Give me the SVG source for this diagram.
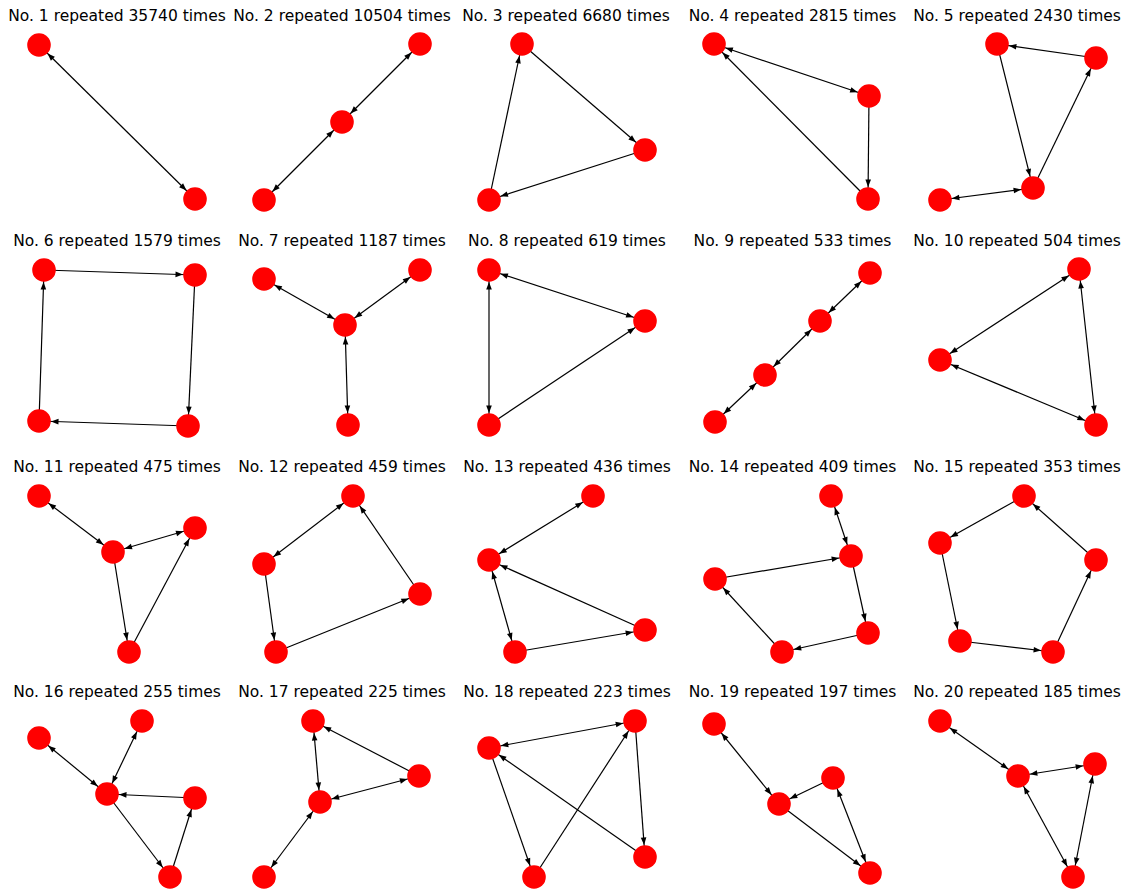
<svg xmlns="http://www.w3.org/2000/svg" width="1128" height="892" viewBox="0 0 1128 892">
<style>
.t{font-family:"DejaVu Sans",sans-serif;font-size:15.5px;fill:#000;text-anchor:middle}
.e line{stroke:#000;stroke-width:1.2}
.u{marker-end:url(#ah)}
.b{marker-start:url(#ah);marker-end:url(#ah)}
circle{fill:#ff0000}
</style>
<defs>
<marker id="ah" markerUnits="userSpaceOnUse" markerWidth="1" markerHeight="1" refX="0" refY="0" orient="auto-start-reverse" overflow="visible">
<path d="M-12,0 L-19.5,-2.8 L-19.5,2.8 Z" fill="#000"/>
</marker>
</defs>
<rect width="1128" height="892" fill="#fff"/>

<g id="panel1">
<text class="t" x="117" y="21">No. 1 repeated 35740 times</text>
<g id="p1-edges" class="e"><line class="b" x1="39" y1="45" x2="195" y2="199"/></g>
<g id="p1-n1"><circle cx="39" cy="45" r="11.8"/></g>
<g id="p1-n2"><circle cx="195" cy="199" r="11.8"/></g>
</g>

<g id="panel2">
<text class="t" x="342" y="21">No. 2 repeated 10504 times</text>
<g id="p2-edges" class="e">
<line class="b" x1="420" y1="44" x2="342" y2="122"/>
<line class="b" x1="342" y1="122" x2="264" y2="200"/>
</g>
<g id="p2-n1"><circle cx="420" cy="44" r="11.8"/></g>
<g id="p2-n2"><circle cx="342" cy="122" r="11.8"/></g>
<g id="p2-n3"><circle cx="264" cy="200" r="11.8"/></g>
</g>

<g id="panel3">
<text class="t" x="566" y="21">No. 3 repeated 6680 times</text>
<g id="p3-edges" class="e">
<line class="u" x1="522" y1="44" x2="645" y2="150"/>
<line class="u" x1="645" y1="150" x2="489" y2="200"/>
<line class="u" x1="489" y1="200" x2="522" y2="44"/>
</g>
<g id="p3-n1"><circle cx="522" cy="44" r="11.8"/></g>
<g id="p3-n2"><circle cx="645" cy="150" r="11.8"/></g>
<g id="p3-n3"><circle cx="489" cy="200" r="11.8"/></g>
</g>

<g id="panel4">
<text class="t" x="792.5" y="21">No. 4 repeated 2815 times</text>
<g id="p4-edges" class="e">
<line class="b" x1="714" y1="44" x2="869" y2="96"/>
<line class="u" x1="869" y1="96" x2="868" y2="199"/>
<line class="u" x1="868" y1="199" x2="714" y2="44"/>
</g>
<g id="p4-n1"><circle cx="714" cy="44" r="11.8"/></g>
<g id="p4-n2"><circle cx="869" cy="96" r="11.8"/></g>
<g id="p4-n3"><circle cx="868" cy="199" r="11.8"/></g>
</g>

<g id="panel5">
<text class="t" x="1017" y="21">No. 5 repeated 2430 times</text>
<g id="p5-edges" class="e">
<line class="u" x1="1096" y1="58" x2="997" y2="44"/>
<line class="u" x1="997" y1="44" x2="1033" y2="188"/>
<line class="u" x1="1033" y1="188" x2="1096" y2="58"/>
<line class="b" x1="1033" y1="188" x2="940" y2="200"/>
</g>
<g id="p5-n1"><circle cx="997" cy="44" r="11.8"/></g>
<g id="p5-n2"><circle cx="1096" cy="58" r="11.8"/></g>
<g id="p5-n3"><circle cx="1033" cy="188" r="11.8"/></g>
<g id="p5-n4"><circle cx="940" cy="200" r="11.8"/></g>
</g>

<g id="panel6">
<text class="t" x="117" y="246">No. 6 repeated 1579 times</text>
<g id="p6-edges" class="e">
<line class="u" x1="44" y1="270" x2="195" y2="275"/>
<line class="u" x1="195" y1="275" x2="188" y2="426"/>
<line class="u" x1="188" y1="426" x2="39" y2="421"/>
<line class="u" x1="39" y1="421" x2="44" y2="270"/>
</g>
<g id="p6-n1"><circle cx="44" cy="270" r="11.8"/></g>
<g id="p6-n2"><circle cx="195" cy="275" r="11.8"/></g>
<g id="p6-n3"><circle cx="39" cy="421" r="11.8"/></g>
<g id="p6-n4"><circle cx="188" cy="426" r="11.8"/></g>
</g>

<g id="panel7">
<text class="t" x="342" y="246">No. 7 repeated 1187 times</text>
<g id="p7-edges" class="e">
<line class="b" x1="264" y1="279" x2="345" y2="325"/>
<line class="b" x1="420" y1="270" x2="345" y2="325"/>
<line class="b" x1="345" y1="325" x2="348" y2="425"/>
</g>
<g id="p7-n1"><circle cx="264" cy="279" r="11.8"/></g>
<g id="p7-n2"><circle cx="420" cy="270" r="11.8"/></g>
<g id="p7-n3"><circle cx="345" cy="325" r="11.8"/></g>
<g id="p7-n4"><circle cx="348" cy="425" r="11.8"/></g>
</g>

<g id="panel8">
<text class="t" x="567" y="246">No. 8 repeated 619 times</text>
<g id="p8-edges" class="e">
<line class="b" x1="489" y1="270" x2="645" y2="321"/>
<line class="b" x1="489" y1="270" x2="489" y2="425"/>
<line class="u" x1="489" y1="425" x2="645" y2="321"/>
</g>
<g id="p8-n1"><circle cx="489" cy="270" r="11.8"/></g>
<g id="p8-n2"><circle cx="645" cy="321" r="11.8"/></g>
<g id="p8-n3"><circle cx="489" cy="425" r="11.8"/></g>
</g>

<g id="panel9">
<text class="t" x="792.5" y="246">No. 9 repeated 533 times</text>
<g id="p9-edges" class="e">
<line class="b" x1="870" y1="273" x2="820" y2="321"/>
<line class="b" x1="820" y1="321" x2="765" y2="375"/>
<line class="b" x1="765" y1="375" x2="715" y2="422"/>
</g>
<g id="p9-n1"><circle cx="870" cy="273" r="11.8"/></g>
<g id="p9-n2"><circle cx="820" cy="321" r="11.8"/></g>
<g id="p9-n3"><circle cx="765" cy="375" r="11.8"/></g>
<g id="p9-n4"><circle cx="715" cy="422" r="11.8"/></g>
</g>

<g id="panel10">
<text class="t" x="1017" y="246">No. 10 repeated 504 times</text>
<g id="p10-edges" class="e">
<line class="b" x1="1079" y1="269" x2="940" y2="360"/>
<line class="b" x1="1079" y1="269" x2="1096" y2="425"/>
<line class="b" x1="940" y1="360" x2="1096" y2="425"/>
</g>
<g id="p10-n1"><circle cx="1079" cy="269" r="11.8"/></g>
<g id="p10-n2"><circle cx="940" cy="360" r="11.8"/></g>
<g id="p10-n3"><circle cx="1096" cy="425" r="11.8"/></g>
</g>

<g id="panel11">
<text class="t" x="117" y="472">No. 11 repeated 475 times</text>
<g id="p11-edges" class="e">
<line class="b" x1="39" y1="496" x2="113" y2="552"/>
<line class="b" x1="113" y1="552" x2="195" y2="528"/>
<line class="u" x1="113" y1="552" x2="129" y2="652"/>
<line class="u" x1="129" y1="652" x2="195" y2="528"/>
</g>
<g id="p11-n1"><circle cx="39" cy="496" r="11.8"/></g>
<g id="p11-n2"><circle cx="195" cy="528" r="11.8"/></g>
<g id="p11-n3"><circle cx="113" cy="552" r="11.8"/></g>
<g id="p11-n4"><circle cx="129" cy="652" r="11.8"/></g>
</g>

<g id="panel12">
<text class="t" x="342" y="472">No. 12 repeated 459 times</text>
<g id="p12-edges" class="e">
<line class="b" x1="353" y1="496" x2="264" y2="564"/>
<line class="u" x1="264" y1="564" x2="276" y2="652"/>
<line class="u" x1="276" y1="652" x2="420" y2="594"/>
<line class="u" x1="420" y1="594" x2="353" y2="496"/>
</g>
<g id="p12-n1"><circle cx="353" cy="496" r="11.8"/></g>
<g id="p12-n2"><circle cx="264" cy="564" r="11.8"/></g>
<g id="p12-n3"><circle cx="420" cy="594" r="11.8"/></g>
<g id="p12-n4"><circle cx="276" cy="652" r="11.8"/></g>
</g>

<g id="panel13">
<text class="t" x="567" y="472">No. 13 repeated 436 times</text>
<g id="p13-edges" class="e">
<line class="b" x1="593" y1="496" x2="489" y2="560"/>
<line class="b" x1="489" y1="560" x2="515" y2="652"/>
<line class="u" x1="515" y1="652" x2="645" y2="630"/>
<line class="u" x1="645" y1="630" x2="489" y2="560"/>
</g>
<g id="p13-n1"><circle cx="593" cy="496" r="11.8"/></g>
<g id="p13-n2"><circle cx="489" cy="560" r="11.8"/></g>
<g id="p13-n3"><circle cx="645" cy="630" r="11.8"/></g>
<g id="p13-n4"><circle cx="515" cy="652" r="11.8"/></g>
</g>

<g id="panel14">
<text class="t" x="792.5" y="472">No. 14 repeated 409 times</text>
<g id="p14-edges" class="e">
<line class="b" x1="831" y1="496" x2="851" y2="556"/>
<line class="u" x1="715" y1="579" x2="851" y2="556"/>
<line class="u" x1="851" y1="556" x2="868" y2="633"/>
<line class="u" x1="868" y1="633" x2="782" y2="652"/>
<line class="u" x1="782" y1="652" x2="715" y2="579"/>
</g>
<g id="p14-n1"><circle cx="831" cy="496" r="11.8"/></g>
<g id="p14-n2"><circle cx="851" cy="556" r="11.8"/></g>
<g id="p14-n3"><circle cx="715" cy="579" r="11.8"/></g>
<g id="p14-n4"><circle cx="868" cy="633" r="11.8"/></g>
<g id="p14-n5"><circle cx="782" cy="652" r="11.8"/></g>
</g>

<g id="panel15">
<text class="t" x="1017" y="472">No. 15 repeated 353 times</text>
<g id="p15-edges" class="e">
<line class="u" x1="1024" y1="496" x2="940" y2="543"/>
<line class="u" x1="940" y1="543" x2="960" y2="641"/>
<line class="u" x1="960" y1="641" x2="1053" y2="652"/>
<line class="u" x1="1053" y1="652" x2="1096" y2="560"/>
<line class="u" x1="1096" y1="560" x2="1024" y2="496"/>
</g>
<g id="p15-n1"><circle cx="1024" cy="496" r="11.8"/></g>
<g id="p15-n2"><circle cx="940" cy="543" r="11.8"/></g>
<g id="p15-n3"><circle cx="1096" cy="560" r="11.8"/></g>
<g id="p15-n4"><circle cx="960" cy="641" r="11.8"/></g>
<g id="p15-n5"><circle cx="1053" cy="652" r="11.8"/></g>
</g>

<g id="panel16">
<text class="t" x="117" y="697">No. 16 repeated 255 times</text>
<g id="p16-edges" class="e">
<line class="b" x1="39" y1="738" x2="107" y2="794"/>
<line class="b" x1="142" y1="721" x2="107" y2="794"/>
<line class="u" x1="195" y1="798" x2="107" y2="794"/>
<line class="u" x1="107" y1="794" x2="170" y2="877"/>
<line class="u" x1="170" y1="877" x2="195" y2="798"/>
</g>
<g id="p16-n1"><circle cx="39" cy="738" r="11.8"/></g>
<g id="p16-n2"><circle cx="142" cy="721" r="11.8"/></g>
<g id="p16-n3"><circle cx="107" cy="794" r="11.8"/></g>
<g id="p16-n4"><circle cx="195" cy="798" r="11.8"/></g>
<g id="p16-n5"><circle cx="170" cy="877" r="11.8"/></g>
</g>

<g id="panel17">
<text class="t" x="342" y="697">No. 17 repeated 225 times</text>
<g id="p17-edges" class="e">
<line class="b" x1="313" y1="721" x2="320" y2="802"/>
<line class="u" x1="419" y1="776" x2="313" y2="721"/>
<line class="b" x1="419" y1="776" x2="320" y2="802"/>
<line class="b" x1="320" y1="802" x2="264" y2="877"/>
</g>
<g id="p17-n1"><circle cx="313" cy="721" r="11.8"/></g>
<g id="p17-n2"><circle cx="419" cy="776" r="11.8"/></g>
<g id="p17-n3"><circle cx="320" cy="802" r="11.8"/></g>
<g id="p17-n4"><circle cx="264" cy="877" r="11.8"/></g>
</g>

<g id="panel18">
<text class="t" x="567" y="697">No. 18 repeated 223 times</text>
<g id="p18-edges" class="e">
<line class="b" x1="489" y1="748" x2="635" y2="721"/>
<line class="u" x1="489" y1="748" x2="534" y2="877"/>
<line class="u" x1="534" y1="877" x2="635" y2="721"/>
<line class="u" x1="635" y1="721" x2="645" y2="857"/>
<line class="u" x1="645" y1="857" x2="489" y2="748"/>
</g>
<g id="p18-n1"><circle cx="635" cy="721" r="11.8"/></g>
<g id="p18-n2"><circle cx="489" cy="748" r="11.8"/></g>
<g id="p18-n3"><circle cx="645" cy="857" r="11.8"/></g>
<g id="p18-n4"><circle cx="534" cy="877" r="11.8"/></g>
</g>

<g id="panel19">
<text class="t" x="792.5" y="697">No. 19 repeated 197 times</text>
<g id="p19-edges" class="e">
<line class="b" x1="714" y1="724" x2="779" y2="804"/>
<line class="u" x1="833" y1="778" x2="779" y2="804"/>
<line class="u" x1="779" y1="804" x2="870" y2="873"/>
<line class="b" x1="833" y1="778" x2="870" y2="873"/>
</g>
<g id="p19-n1"><circle cx="714" cy="724" r="11.8"/></g>
<g id="p19-n2"><circle cx="833" cy="778" r="11.8"/></g>
<g id="p19-n3"><circle cx="779" cy="804" r="11.8"/></g>
<g id="p19-n4"><circle cx="870" cy="873" r="11.8"/></g>
</g>

<g id="panel20">
<text class="t" x="1017" y="697">No. 20 repeated 185 times</text>
<g id="p20-edges" class="e">
<line class="b" x1="940" y1="721" x2="1018" y2="776"/>
<line class="b" x1="1018" y1="776" x2="1095" y2="764"/>
<line class="b" x1="1018" y1="776" x2="1073" y2="877"/>
<line class="b" x1="1095" y1="764" x2="1073" y2="877"/>
</g>
<g id="p20-n1"><circle cx="940" cy="721" r="11.8"/></g>
<g id="p20-n2"><circle cx="1018" cy="776" r="11.8"/></g>
<g id="p20-n3"><circle cx="1095" cy="764" r="11.8"/></g>
<g id="p20-n4"><circle cx="1073" cy="877" r="11.8"/></g>
</g>
</svg>
